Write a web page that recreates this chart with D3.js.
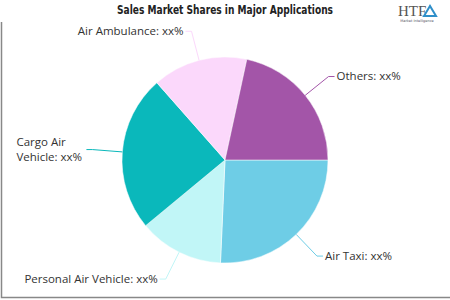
<!DOCTYPE html>
<html>
<head>
<meta charset="utf-8">
<script src="https://cdn.jsdelivr.net/npm/d3@7"></script>
<style>
    body { margin: 0; background: #fff; }
    svg { display: block; }
</style>
</head>
<body>
<div id="chart"></div>
<script>

const categories = ['Air Taxi', 'Personal Air Vehicle', 'Cargo Air Vehicle', 'Air Ambulance', 'Others'];
const shares = [25.7, 13.3, 24.5, 14.9, 21.6];
const labels = ['Air Taxi: xx%', 'Personal Air Vehicle: xx%', 'Cargo Air|Vehicle: xx%', 'Air Ambulance: xx%', 'Others: xx%'];
const colors = ['#6ecde6', '#c1f6f7', '#0ab8bb', '#fbd8fb', '#a355a8'];

const svgWidth = 450;
const svgHeight = 300;

const cx = 225;
const cy = 160;
const radius = 103;
const elbowRadius = 133;

const data = categories.map((c, i) => ({ name: c, value: shares[i], label: labels[i], color: colors[i] }));

const svg = d3.select('#chart').append('svg')
    .attr('width', svgWidth)
    .attr('height', svgHeight);

// frame
svg.append('path')
    .attr('d', `M1.5,22 V297.5 H450`)
    .attr('fill', 'none')
    .attr('stroke', '#888')
    .attr('stroke-width', 1.5);

// title
svg.append('text')
    .attr('x', 225)
    .attr('y', 14)
    .attr('text-anchor', 'middle')
    .attr('textLength', 216)
    .attr('lengthAdjust', 'spacingAndGlyphs')
    .style('font-family', '"DejaVu Sans Condensed", "DejaVu Sans"')
    .style('font-weight', 'bold')
    .style('font-size', '12px')
    .style('fill', '#222')
    .text('Sales Market Shares in Major Applications');

// logo
const logo = svg.append('g').attr('transform', 'translate(398,3)');
logo.append('text')
    .attr('x', 0).attr('y', 13)
    .style('font-family', '"Liberation Serif", serif')
    .style('font-size', '15px')
    .style('fill', '#555')
    .text('HTF');
logo.append('path')
    .attr('d', 'M26,13 L32,3 L38,13 Z')
    .attr('fill', 'none')
    .attr('stroke', '#2f8fc9')
    .attr('stroke-width', 2);
logo.append('text')
    .attr('x', 19).attr('y', 19)
    .attr('text-anchor', 'middle')
    .style('font-family', '"DejaVu Sans"')
    .style('font-size', '3.5px')
    .style('fill', '#556')
    .text('Market Intelligence');

const chart = svg.append('g')
    .attr('transform', `translate(${cx},${cy})`);

const pie = d3.pie()
    .sort(null)
    .value(d => d.value)
    .startAngle(Math.PI / 2)
    .endAngle(Math.PI / 2 + 2 * Math.PI);

const arc = d3.arc()
    .innerRadius(0)
    .outerRadius(radius);

const arcs = pie(data);

chart.selectAll('path.slice')
    .data(arcs)
    .enter()
    .append('path')
    .attr('class', 'slice')
    .attr('d', arc)
    .attr('fill', d => d.data.color)
    .attr('stroke', '#fff')
    .attr('stroke-width', 0.5);

const mid = d => (d.startAngle + d.endAngle) / 2;
const pt = (a, r) => [r * Math.sin(a), -r * Math.cos(a)];
const isRight = d => (mid(d) % (2 * Math.PI)) < Math.PI;

// connectors
chart.selectAll('polyline')
    .data(arcs)
    .enter()
    .append('polyline')
    .attr('fill', 'none')
    .attr('stroke', d => d.data.color)
    .attr('stroke-width', 1)
    .attr('points', d => {
        const a = mid(d);
        const start = pt(a, radius);
        const elbow = pt(a, elbowRadius);
        const end = [elbow[0] + (isRight(d) ? 6 : -6), elbow[1]];
        return [start, elbow, end];
    });

// labels
const label = chart.selectAll('text.label')
    .data(arcs)
    .enter()
    .append('text')
    .attr('class', 'label')
    .attr('text-anchor', d => isRight(d) ? 'start' : 'end')
    .style('font-family', '"Open Sans", sans-serif')
    .style('font-size', '11.5px')
    .style('fill', '#333');

label.each(function (d) {
    const a = mid(d);
    const elbow = pt(a, elbowRadius);
    const x = elbow[0] + (isRight(d) ? 8 : -8);
    const lines = d.data.label.split('|');
    const el = d3.select(this);
    if (lines.length > 1) {
        el.attr('text-anchor', 'start');
    }
    lines.forEach((t, i) => {
        el.append('tspan')
            .attr('x', lines.length > 1 ? x - 68 : x)
            .attr('y', elbow[1] + 3.5 + (i - (lines.length - 1) / 2) * 15)
            .text(t);
    });
});

</script>
</body>
</html>
